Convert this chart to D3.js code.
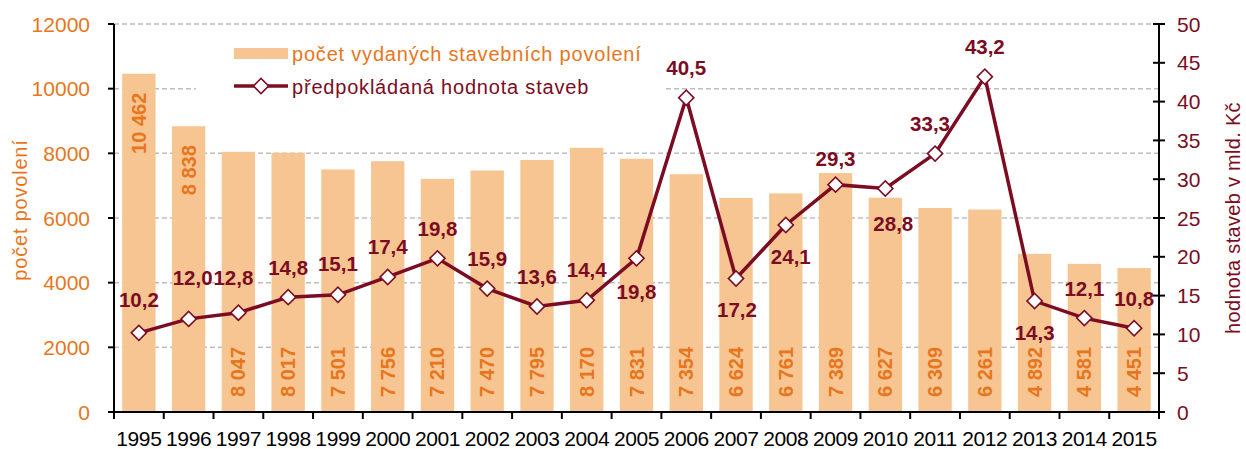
<!DOCTYPE html>
<html>
<head>
<meta charset="utf-8">
<script src="https://cdn.jsdelivr.net/npm/d3@7"></script>
<style>
  body { margin: 0; background: #fff; }
  svg { font-family: "Liberation Sans", Arial, sans-serif; }
</style>
</head>
<body>
<svg></svg>
<script>
const years = ["1995","1996","1997","1998","1999","2000","2001","2002","2003","2004","2005",
               "2006","2007","2008","2009","2010","2011","2012","2013","2014","2015"];
const permits = [10462, 8838, 8047, 8017, 7501, 7756, 7210, 7470, 7795, 8170, 7831,
                 7354, 6624, 6761, 7389, 6627, 6309, 6261, 4892, 4581, 4451];
const value = [10.2, 12.0, 12.8, 14.8, 15.1, 17.4, 19.8, 15.9, 13.6, 14.4, 19.8,
               40.5, 17.2, 24.1, 29.3, 28.8, 33.3, 43.2, 14.3, 12.1, 10.8];
const leftTicks = [0, 2000, 4000, 6000, 8000, 10000, 12000];
const rightTicks = [0, 5, 10, 15, 20, 25, 30, 35, 40, 45, 50];
const legendLabels = ["počet vydaných stavebních povolení", "předpokládaná hodnota staveb"];

// where each line label sits relative to its marker (px)
const labelDx = [0, 4, -5, 0, 0, 0, 0, 0, 0, 0, 0, 0, 1, 5, 0, 8, -5, 0, 0, 0, 0];
const labelDy = [-33, -41, -35, -30, -31, -30, -30, -30, -30, -31, 33, -30, 31, 32, -26, 35, -30, -30, 31, -30, -30];
// bars whose label is placed at the top of the bar
const labelAtTop = ["1995", "1996"];

const width = 1246, height = 449;
const orange = "#E8761C", barFill = "#F6C592", wine = "#7B0C22";
const margin = {left: 114, right: 87, top: 24, bottom: 37};

const svg = d3.select("svg").attr("width", width).attr("height", height);

const x = d3.scaleBand().domain(years)
  .range([margin.left, width - margin.right])
  .paddingInner(0.33).paddingOuter(0.165);
const yL = d3.scaleLinear().domain([0, 12000]).range([height - margin.bottom, margin.top]);
const yR = d3.scaleLinear().domain([0, 50]).range([height - margin.bottom, margin.top]);
const x0 = margin.left, x1 = width - margin.right;

// gridlines
svg.append("g").selectAll("line")
  .data(leftTicks.filter(d => d > 0))
  .join("line")
    .attr("x1", x0).attr("x2", x1)
    .attr("y1", d => yL(d)).attr("y2", d => yL(d))
    .attr("stroke", "#BEBEBE").attr("stroke-width", 1.5)
    .attr("stroke-dasharray", "5,3");

// legend background hides gridlines
svg.append("rect").attr("x", 196).attr("y", 32).attr("width", 470).attr("height", 74).attr("fill", "#fff");

// bars
const data = years.map((y, i) => ({year: y, permits: permits[i], value: value[i], i: i}));
svg.append("g").selectAll("rect")
  .data(data)
  .join("rect")
    .attr("x", d => x(d.year))
    .attr("width", x.bandwidth())
    .attr("y", d => yL(d.permits))
    .attr("height", d => yL(0) - yL(d.permits))
    .attr("fill", barFill);

const fmt = d3.formatLocale({thousands: " ", grouping: [3], decimal: ",", currency: ["", ""]});
const fmtInt = fmt.format(",d");
const fmtDec = fmt.format(".1f");

svg.append("g").selectAll("text")
  .data(data)
  .join("text")
    .attr("transform", d => {
      const cx = x(d.year) + x.bandwidth() / 2 + 7;
      const cy = labelAtTop.includes(d.year) ? yL(d.permits) + 19 : yL(0) - 15;
      return `translate(${cx},${cy}) rotate(-90)`;
    })
    .attr("text-anchor", d => labelAtTop.includes(d.year) ? "end" : "start")
    .attr("fill", orange)
    .attr("font-weight", "bold")
    .attr("font-size", 20)
    .text(d => fmtInt(d.permits));

// axes lines
const axisG = svg.append("g").attr("stroke", "#000").attr("stroke-width", 2);
axisG.append("line").attr("x1", x0).attr("x2", x0).attr("y1", yL(12000)).attr("y2", yL(0));
axisG.append("line").attr("x1", x1).attr("x2", x1).attr("y1", yR(50)).attr("y2", yR(0));
axisG.append("line").attr("x1", x0 - 6).attr("x2", x1 + 6).attr("y1", yL(0)).attr("y2", yL(0));

axisG.selectAll(".lt").data(leftTicks).join("line")
  .attr("x1", x0 - 6).attr("x2", x0).attr("y1", d => yL(d)).attr("y2", d => yL(d));
axisG.selectAll(".rt").data(rightTicks).join("line")
  .attr("x1", x1 - 6).attr("x2", x1 + 6).attr("y1", d => yR(d)).attr("y2", d => yR(d));
axisG.selectAll(".xt").data(d3.range(years.length + 1)).join("line")
  .attr("x1", i => x0 + i * x.step()).attr("x2", i => x0 + i * x.step())
  .attr("y1", yL(0)).attr("y2", yL(0) + 7);

// tick labels
svg.append("g").selectAll("text").data(leftTicks).join("text")
  .attr("x", 90).attr("y", d => yL(d) + 7.5)
  .attr("text-anchor", "end").attr("fill", orange).attr("font-size", 21)
  .text(d => d);
svg.append("g").selectAll("text").data(rightTicks).join("text")
  .attr("x", 1177).attr("y", d => yR(d) + 7.5)
  .attr("text-anchor", "start").attr("fill", wine).attr("font-size", 21)
  .text(d => d);
svg.append("g").selectAll("text").data(years).join("text")
  .attr("x", d => x(d) + x.bandwidth() / 2).attr("y", 446)
  .attr("text-anchor", "middle").attr("fill", "#000").attr("font-size", 21)
  .attr("letter-spacing", -0.4)
  .text(d => d);

// axis titles
svg.append("text")
  .attr("transform", `translate(27,${(yL(0) + yL(12000)) / 2 - 8}) rotate(-90)`)
  .attr("text-anchor", "middle").attr("fill", orange).attr("font-size", 20)
  .attr("letter-spacing", 0.8)
  .text("počet povolení");
svg.append("text")
  .attr("transform", `translate(1240,${(yR(0) + yR(50)) / 2}) rotate(-90)`)
  .attr("text-anchor", "middle").attr("fill", wine).attr("font-size", 20)
  .attr("letter-spacing", 0.3)
  .text("hodnota staveb v mld. Kč");

// line
const line = d3.line()
  .x(d => x(d.year) + x.bandwidth() / 2)
  .y(d => yR(d.value));
svg.append("path").datum(data)
  .attr("d", line)
  .attr("fill", "none").attr("stroke", wine).attr("stroke-width", 3.5);

const diamond = d3.symbol().type(d3.symbolSquare).size(115);
svg.append("g").selectAll("path").data(data).join("path")
  .attr("d", diamond)
  .attr("transform", d => `translate(${x(d.year) + x.bandwidth() / 2},${yR(d.value)}) rotate(45)`)
  .attr("fill", "#fff").attr("stroke", wine).attr("stroke-width", 1.6);

svg.append("g").selectAll("text").data(data).join("text")
  .attr("x", d => x(d.year) + x.bandwidth() / 2 + labelDx[d.i])
  .attr("y", d => yR(d.value) + labelDy[d.i] + 7.5)
  .attr("text-anchor", "middle").attr("fill", wine)
  .attr("font-weight", "bold").attr("font-size", 20.5)
  .text(d => fmtDec(d.value));

// legend
const lg = svg.append("g");
lg.append("rect").attr("x", 234).attr("y", 48).attr("width", 54).attr("height", 11).attr("fill", barFill);
lg.append("text").attr("x", 292).attr("y", 61).attr("fill", orange).attr("font-size", 20)
  .attr("letter-spacing", 0.8).text(legendLabels[0]);
lg.append("line").attr("x1", 234).attr("x2", 288).attr("y1", 86).attr("y2", 86)
  .attr("stroke", wine).attr("stroke-width", 3.5);
lg.append("path").attr("d", diamond)
  .attr("transform", "translate(261,86) rotate(45)")
  .attr("fill", "#fff").attr("stroke", wine).attr("stroke-width", 1.6);
lg.append("text").attr("x", 292).attr("y", 94).attr("fill", wine).attr("font-size", 20)
  .attr("letter-spacing", 0.8).text(legendLabels[1]);
</script>
</body>
</html>
